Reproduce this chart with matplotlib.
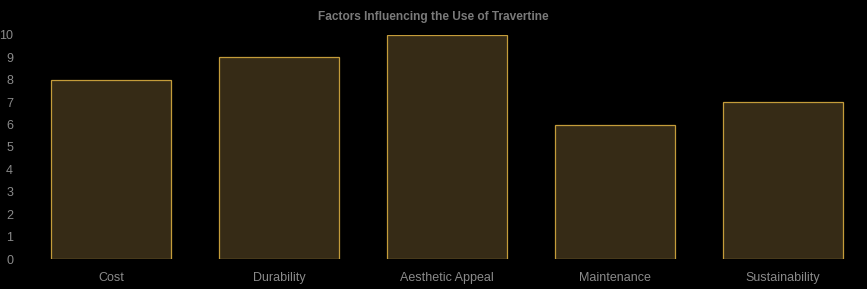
import matplotlib
matplotlib.use("Agg")
import matplotlib.pyplot as plt

categories = ["Cost", "Durability", "Aesthetic Appeal", "Maintenance", "Sustainability"]
values = [8, 9, 10, 6, 7]
yticks = list(range(0, 11))

plt.rcParams['font.family'] = ['Liberation Sans', 'DejaVu Sans']

W, H = 867, 289
fig = plt.figure(figsize=(W / 100, H / 100), dpi=100, facecolor="black")
left, right, top, bottom = 27, 867, 35, 259
ax = fig.add_axes([left / W, 1 - bottom / H, (right - left) / W, (bottom - top) / H])
ax.set_facecolor("black")

x = list(range(len(categories)))
ax.bar(x, values, width=0.72, color="#362b16", edgecolor="#c49c3a", linewidth=0.9)
ax.set_xlim(-0.5, len(categories) - 0.5)
ax.set_ylim(0, 10)
ax.set_yticks(yticks)
ax.set_yticklabels([str(t) for t in yticks])
ax.set_xticks(x)
ax.set_xticklabels(categories)
for s in ax.spines.values():
    s.set_visible(False)
ax.tick_params(axis="both", length=0, colors="#8a8a8a", labelsize=9)
ax.tick_params(axis="y", pad=10)
ax.tick_params(axis="x", pad=9.5)
for lab in ax.get_yticklabels():
    lab.set_horizontalalignment("right")

fig.text(433 / W, 1 - 17 / H, "Factors Influencing the Use of Travertine",
         ha="center", va="center", color="#7a7a7a", fontsize=8.6, fontweight="bold")

fig.savefig("out.png", dpi=100, facecolor="black")
